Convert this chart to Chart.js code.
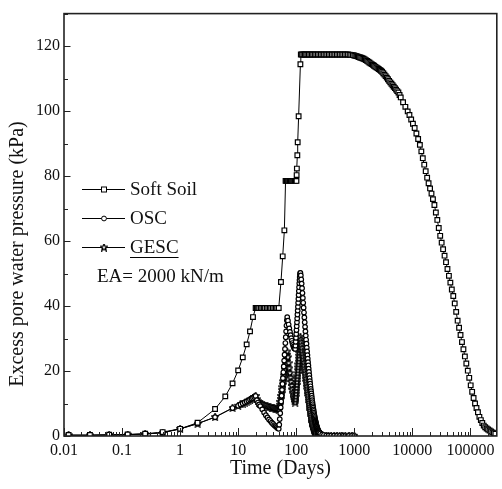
<!DOCTYPE html>
<html>
<head>
<meta charset="utf-8">
<script src="https://cdn.jsdelivr.net/npm/chart.js@4.4.1/dist/chart.umd.min.js"></script>
<style>
  html, body { margin: 0; padding: 0; background: #fff; }
</style>
</head>
<body>
<canvas id="myChart" width="502" height="489"></canvas>
<script>
// axis ticks
var xTickValues = [0.01, 0.1, 1, 10, 100, 1000, 10000, 100000];
var xTickLabels = ['0.01', '0.1', '1', '10', '100', '1000', '10000', '100000'];
var yTickValues = [0, 20, 40, 60, 80, 100, 120];

// Soft Soil: time (days) and excess pore pressure (kPa)
var softTime = [
    0.012, 0.028, 0.06, 0.125, 0.25, 0.5, 1, 2, 4, 6, 8, 10, 12, 14, 16, 18, 20,
    21, 22, 23, 24.5, 26, 27.5, 29, 31, 33, 35, 37, 39.5, 42, 44.5, 47, 50,
    54.6, 58.5, 62.5, 65.5,
    67, 69, 71, 73, 75.5, 78, 80.5, 83, 86, 89, 92, 95, 98, 101,
    101.6, 102.6, 104.5, 106, 110, 118,
    120, 126, 133, 140, 148, 156, 165, 175, 185, 196, 208, 221, 235, 250, 266, 283, 301, 320,
    341, 363, 387, 412, 439, 468, 499, 532, 567, 604, 644, 686, 731, 779, 830, 885, 943,
    1000, 1047, 1096, 1148, 1202, 1259, 1318, 1380, 1445, 1514, 1585, 1660, 1738, 1820,
    1905, 1995, 2089, 2188, 2291, 2399, 2512, 2630, 2754, 2884, 3020, 3162, 3311, 3467,
    3631, 3802, 3981, 4169, 4365, 4571, 4786, 5012, 5248, 5495, 5754, 6026, 6310,
    6918, 7586, 8318, 8913, 9550, 10230, 10960, 11750, 12590,
    13490, 14290, 15140, 16030, 16980, 17990, 19050, 20180, 21380, 22650,
    23990, 25410, 26920, 28510, 30200, 31990, 33880, 35890, 38020, 40270,
    42660, 45190, 47860, 50700, 53700, 56890, 60260, 63830, 67610, 71610,
    75860, 80350, 85110, 90160, 95500, 101200, 107200, 113500, 120200, 127400,
    134900, 142900, 151400, 160300, 169800, 179900, 190500, 201800, 213800, 226500,
    239900, 254100, 269200
];
var softValue = [
    0.3, 0.3, 0.4, 0.5, 0.7, 1.2, 2.2, 4.1, 8.3, 12.2, 16.2, 20.2, 24.2, 28.2, 32.2, 36.6, 39.4,
    39.4, 39.4, 39.4, 39.4, 39.4, 39.4, 39.4, 39.4, 39.4, 39.4, 39.4, 39.4, 39.4, 39.4, 39.4, 39.4,
    47.4, 55.3, 63.3, 78.5,
    78.5, 78.5, 78.5, 78.5, 78.5, 78.5, 78.5, 78.5, 78.5, 78.5, 78.5, 78.5, 78.5, 78.5,
    80.3, 82.3, 86.4, 90.4, 98.4, 114.4,
    117.4, 117.4, 117.4, 117.4, 117.4, 117.4, 117.4, 117.4, 117.4, 117.4, 117.4, 117.4, 117.4, 117.4, 117.4, 117.4, 117.4, 117.4,
    117.4, 117.4, 117.4, 117.4, 117.4, 117.4, 117.4, 117.4, 117.4, 117.4, 117.4, 117.4, 117.4, 117.4, 117.35, 117.3, 117.2,
    117.1, 117.0, 116.9, 116.75, 116.6, 116.5, 116.4, 116.25, 116.1, 115.9, 115.7, 115.45, 115.2, 114.95,
    114.7, 114.45, 114.2, 113.95, 113.7, 113.45, 113.2, 112.95, 112.7, 112.4, 112.1, 111.65, 111.2, 110.75,
    110.3, 109.8, 109.3, 108.85, 108.4, 107.95, 107.5, 107.05, 106.6, 106.15, 105.7, 104.95, 104.2,
    102.7, 101.3, 99.9, 98.8, 97.4, 96.1, 94.8, 93.1, 91.4,
    89.6, 87.6, 85.5, 83.5, 81.5, 79.5, 77.8, 76.2, 74.6, 72.9,
    71.1, 68.8, 66.5, 64.0, 61.6, 59.5, 57.5, 55.5, 53.5, 51.4,
    49.3, 47.2, 45.1, 43.1, 40.8, 38.2, 35.5, 33.3, 31.1, 28.9,
    26.7, 24.5, 22.3, 20.1, 17.9, 15.6, 13.6, 11.7, 10.0, 8.6,
    7.3, 5.9, 4.9, 4.0, 3.2, 2.7, 2.3, 2.0, 1.7, 1.4,
    1.1, 0.9, 0.7
];

// OSC and GESC share the same output times (days)
var colTime = [
    0.012, 0.028, 0.06, 0.125, 0.25, 0.5, 1, 2, 4, 8, 10, 11, 12, 13, 14, 15, 16, 17, 18, 19, 20,
    21, 22, 23, 24, 26, 28, 30, 32, 34, 36, 38, 40, 42, 44, 46, 48, 50,
    51, 52, 53, 54, 55, 56, 57, 58, 59, 60, 61, 62, 63, 64, 65, 66, 67, 68, 69, 70,
    72, 74, 76, 78, 80, 82, 84, 86, 88, 90, 92, 94, 96,
    97, 98, 99, 100, 101, 102, 103, 104, 105, 106, 107, 108, 109, 110, 111, 112, 113, 114, 115, 116, 117, 118,
    120, 122, 124, 126, 128, 130, 132, 134, 136, 138,
    140, 142, 144, 146, 148, 150, 152, 154, 156, 158,
    160, 162, 164, 166, 168, 170, 172, 174, 176, 178,
    180, 182, 184, 186, 188, 190, 192, 194, 196, 198,
    200, 202, 204, 206, 208, 210, 212, 214, 216, 218,
    220, 222, 224, 226, 228, 230, 232, 234, 236, 238,
    240, 242, 244, 246, 248, 250,
    260, 280, 300, 330, 360, 400, 450, 500, 560, 630, 700, 800, 900, 1000
];
var oscValue = [
    0.2, 0.2, 0.3, 0.4, 0.6, 1.0, 2.2, 3.8, 5.8, 8.6, 9.3, 9.7, 10.0, 10.3, 10.6, 10.9, 11.2, 11.5, 11.7, 12.0, 12.3,
    11.0, 10.3, 9.7, 9.2, 8.2, 7.2, 6.4, 5.7, 5.1, 4.6, 4.1, 3.7, 3.3, 3.0, 2.7, 2.4, 2.2,
    3.5, 5.2, 7.0, 8.8, 10.6, 12.4, 14.2, 16.0, 17.8, 19.6, 21.4, 23.2, 25.0, 26.8, 28.6, 30.4, 32.2, 34.0, 35.6, 36.6,
    35.5, 34.3, 33.1, 32.0, 31.0, 30.1, 29.3, 28.6, 28.0, 27.5, 27.1, 26.9, 26.8,
    27.8, 29.0, 30.2, 31.4, 32.6, 33.8, 35.0, 36.2, 37.4, 38.6, 39.8, 41.0, 42.2, 43.4, 44.6, 45.8, 47.0, 48.0, 48.9, 49.6, 50.1, 50.2,
    49.4, 48.2, 46.9, 45.5, 44.0, 42.5, 41.0, 39.5, 38.0, 36.5,
    35.0, 33.6, 32.2, 30.9, 29.6, 28.4, 27.2, 26.0, 24.9, 23.8,
    22.7, 21.7, 20.7, 19.7, 18.7, 17.8, 16.9, 16.1, 15.3, 14.5,
    13.8, 13.1, 12.4, 11.7, 11.0, 10.4, 9.8, 9.2, 8.7, 8.2,
    7.7, 7.2, 6.7, 6.3, 5.9, 5.5, 5.1, 4.7, 4.4, 4.1,
    3.8, 3.5, 3.2, 2.9, 2.7, 2.5, 2.3, 2.1, 1.9, 1.7,
    1.6, 1.5, 1.4, 1.3, 1.2, 1.1,
    0.8, 0.5, 0.3, 0.2, 0.1, 0.1, 0.1, 0.05, 0.05, 0.05, 0.05, 0.05, 0.05, 0.05
];
var gescValue = [
    0.2, 0.2, 0.3, 0.4, 0.6, 1.0, 2.2, 3.8, 5.8, 8.6, 9.3, 9.7, 10.0, 10.3, 10.6, 10.9, 11.2, 11.5, 11.7, 12.0, 12.3,
    11.3, 10.7, 10.3, 10.0, 9.7, 9.5, 9.3, 9.1, 8.9, 8.8, 8.7, 8.6, 8.5, 8.4, 8.3, 8.2, 8.1,
    8.8, 9.6, 10.5, 11.4, 12.3, 13.2, 14.1, 15.0, 15.9, 16.8, 17.7, 18.6, 19.5, 20.4, 21.3, 22.2, 23.1, 24.0, 25.0, 26.0,
    24.2, 22.4, 20.8, 19.3, 17.9, 16.6, 15.4, 14.3, 13.3, 12.4, 11.6, 10.9, 10.3,
    11.2, 12.1, 13.0, 13.9, 14.8, 15.7, 16.6, 17.5, 18.4, 19.3, 20.2, 21.1, 22.0, 22.9, 23.8, 24.7, 25.6, 26.5, 27.4, 28.4, 29.5, 30.5,
    29.6, 28.7, 27.8, 26.9, 26.0, 25.1, 24.2, 23.3, 22.4, 21.5,
    20.7, 19.9, 19.1, 18.3, 17.5, 16.7, 15.9, 15.1, 14.3, 13.6,
    12.9, 12.2, 11.5, 10.8, 10.1, 9.5, 8.9, 8.3, 7.7, 7.1,
    6.5, 5.9, 5.3, 4.8, 4.4, 4.0, 3.6, 3.3, 3.0, 2.7,
    2.4, 2.2, 2.0, 1.8, 1.6, 1.4, 1.3, 1.2, 1.1, 1.0,
    0.9, 0.85, 0.8, 0.75, 0.7, 0.65, 0.6, 0.55, 0.5, 0.45,
    0.42, 0.4, 0.38, 0.36, 0.34, 0.32,
    0.3, 0.2, 0.1, 0.05, 0.05, 0.05, 0.05, 0.05, 0.05, 0.05, 0.05, 0.05, 0.05, 0.05
];

var yTitle = 'Excess pore water pressure (kPa)';
var note = 'EA= 2000 kN/m';

function pairs(xs, ys) {
    var out = [];
    for (var i = 0; i < xs.length; i++) out.push({x: xs[i], y: ys[i]});
    return out;
}

function makeStar(size) {
    var c = document.createElement('canvas');
    c.width = size; c.height = size;
    var g = c.getContext('2d');
    g.beginPath();
    for (var i = 0; i < 10; i++) {
        var r = i % 2 ? size * 0.2 : size * 0.46;
        var a = -Math.PI / 2 + i * Math.PI / 5;
        g.lineTo(size / 2 + r * Math.cos(a), size / 2 + r * Math.sin(a));
    }
    g.closePath();
    g.fillStyle = '#fff';
    g.fill();
    g.strokeStyle = '#000';
    g.lineWidth = 1.3;
    g.stroke();
    return c;
}
var starImg = makeStar(8);

Chart.defaults.font.family = '"Liberation Serif", "Times New Roman", serif';
Chart.defaults.color = '#111';

// frame, inward ticks, y title, legend and the EA note
var framePlugin = {
    id: 'frame',
    afterDraw: function (chart) {
        var ctx = chart.ctx, a = chart.chartArea;
        var x = chart.scales.x, y = chart.scales.y;
        ctx.save();
        ctx.strokeStyle = '#222';
        ctx.lineWidth = 1;
        ctx.beginPath();
        for (var d = 0; d < xTickValues.length; d++) {
            for (var m = 1; m <= 9; m++) {
                var v = xTickValues[d] * m;
                if (v > x.max) break;
                var px = Math.round(x.getPixelForValue(v)) + 0.5;
                var len = m === 1 ? 8 : 4;
                ctx.moveTo(px, a.bottom);
                ctx.lineTo(px, a.bottom - len);
            }
        }
        for (var t = 0; t <= y.max; t += 10) {
            var py = Math.round(y.getPixelForValue(t)) + 0.5;
            var ylen = t % 20 === 0 ? 6.5 : 4;
            ctx.moveTo(a.left, py);
            ctx.lineTo(a.left + ylen, py);
        }
        ctx.stroke();
        ctx.lineWidth = 1.6;
        ctx.strokeRect(a.left, a.top, a.right - a.left, a.bottom - a.top);

        // y axis title
        ctx.save();
        ctx.fillStyle = '#111';
        ctx.font = '20px "Liberation Serif"';
        ctx.textAlign = 'center';
        ctx.textBaseline = 'middle';
        ctx.translate(18, 254);
        ctx.rotate(-Math.PI / 2);
        ctx.fillText(yTitle, 0, 0);
        ctx.restore();

        // legend
        var items = chart.data.datasets;
        ctx.font = '19px "Liberation Serif"';
        ctx.textBaseline = 'middle';
        ctx.textAlign = 'left';
        for (var i = 0; i < items.length; i++) {
            var ly = 189 + i * 29;
            ctx.strokeStyle = '#000';
            ctx.lineWidth = 1;
            ctx.beginPath();
            ctx.moveTo(82, ly + 0.5);
            ctx.lineTo(125, ly + 0.5);
            ctx.stroke();
            var ds = items[i];
            if (ds.pointStyle === 'rect') {
                ctx.fillStyle = '#fff';
                ctx.fillRect(101.5, ly - 2, 5, 5);
                ctx.strokeRect(101.5, ly - 2, 5, 5);
            } else if (ds.pointStyle === 'circle') {
                ctx.fillStyle = '#fff';
                ctx.beginPath();
                ctx.arc(104, ly + 0.5, 2.4, 0, Math.PI * 2);
                ctx.fill();
                ctx.stroke();
            } else {
                ctx.drawImage(starImg, 100, ly - 3.5);
            }
            ctx.fillStyle = '#111';
            ctx.fillText(ds.label, 130, ly + 1);
            if (ds.label === 'GESC') {
                var w = ctx.measureText(ds.label).width;
                ctx.beginPath();
                ctx.moveTo(130, ly + 10.5);
                ctx.lineTo(130 + w, ly + 10.5);
                ctx.stroke();
            }
        }
        ctx.fillText(note, 97, 277);
        ctx.restore();
    }
};

var myChart = new Chart(document.getElementById('myChart'), {
    type: 'line',
    data: {
        datasets: [{
            label: 'Soft Soil',
            data: pairs(softTime, softValue),
            borderColor: '#000',
            borderWidth: 1,
            pointStyle: 'rect',
            pointRadius: 3.3,
            pointBorderWidth: 1.2,
            pointBorderColor: '#000',
            pointBackgroundColor: '#fff'
        }, {
            label: 'OSC',
            data: pairs(colTime, oscValue),
            borderColor: '#000',
            borderWidth: 1,
            pointStyle: 'circle',
            pointRadius: 2.3,
            pointBorderWidth: 1.2,
            pointBorderColor: '#000',
            pointBackgroundColor: '#fff'
        }, {
            label: 'GESC',
            data: pairs(colTime, gescValue),
            borderColor: '#000',
            borderWidth: 1,
            pointStyle: starImg,
            pointRadius: 3,
            pointBorderColor: '#000',
            pointBackgroundColor: '#fff'
        }]
    },
    options: {
        responsive: false,
        animation: false,
        layout: { padding: { left: 0, right: 3, top: 6, bottom: 0 } },
        plugins: { legend: { display: false }, tooltip: { enabled: false } },
        elements: { line: { tension: 0 } },
        scales: {
            x: {
                type: 'logarithmic',
                min: 0.01,
                max: 285000,
                grid: { display: false, drawTicks: false },
                border: { display: false },
                afterBuildTicks: function (scale) {
                    scale.ticks = xTickValues.map(function (v) { return {value: v}; });
                },
                afterFit: function (scale) { scale.height = 53; },
                ticks: {
                    autoSkip: false,
                    maxRotation: 0,
                    padding: 5,
                    font: { size: 16 },
                    color: '#111',
                    callback: function (value) {
                        var i = xTickValues.indexOf(value);
                        return i >= 0 ? xTickLabels[i] : '';
                    }
                },
                title: {
                    display: true,
                    text: 'Time (Days)',
                    font: { size: 20 },
                    color: '#111',
                    padding: { top: 0, bottom: 8 }
                }
            },
            y: {
                type: 'linear',
                min: 0,
                max: 130,
                grid: { display: false, drawTicks: false },
                border: { display: false },
                afterBuildTicks: function (scale) {
                    scale.ticks = yTickValues.map(function (v) { return {value: v}; });
                },
                afterFit: function (scale) { scale.width = 64; },
                ticks: {
                    padding: 4,
                    font: { size: 16 },
                    color: '#111'
                }
            }
        }
    },
    plugins: [framePlugin]
});
</script>
